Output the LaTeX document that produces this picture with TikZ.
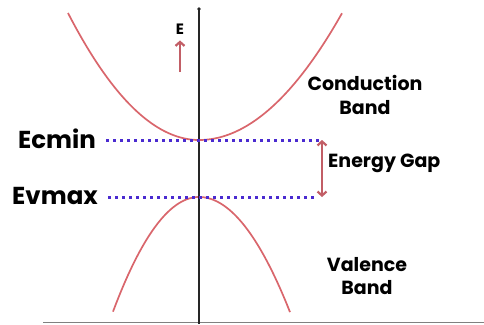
\documentclass[tikz,border=0pt]{standalone}
\usepackage{fontspec}
\setmainfont{Poppins}
\usetikzlibrary{arrows.meta,positioning}
\definecolor{bandred}{HTML}{D9666C}
\definecolor{gapred}{HTML}{C25E66}
\definecolor{levelblue}{HTML}{4A2BD0}

\begin{document}
\begin{tikzpicture}[x=1pt, y=-1pt,
  band/.style={bandred, line width=1.7pt},
  level/.style={levelblue, line width=3pt, dash pattern=on 3pt off 4pt},
  gaparrow/.style={gapred, line width=2.2pt, -{Straight Barb[length=4pt,width=9pt]}},
  lbl/.style={font=\bfseries\fontsize{19}{23.5}\selectfont, align=center, inner sep=0pt},
  biglbl/.style={font=\bfseries\fontsize{24.5}{26}\selectfont, inner sep=0pt}]
  \useasboundingbox (0,0) rectangle (484,324);

  % bands
  \draw[band, domain=-13.1:0, samples=60] plot ({199+10*\x}, {140-0.74*\x*\x});
  \draw[band, domain=0:14.3, samples=60] plot ({199+10*\x}, {140-0.62*\x*\x});
  \draw[band, domain=-8.6:0, samples=60] plot ({199+10*\x}, {197+1.55*\x*\x});
  \draw[band, domain=0:9.1, samples=60] plot ({199+10*\x}, {197+1.39*\x*\x});

  % axes
  \draw[gray, line width=1.5pt] (43,322.5) -- (484,322.5);
  \draw[black!85, line width=1.8pt] (199,324) -- (199,9);
  \fill[black!85] (199,9) circle (1.8pt);

  % energy arrow
  \node[font=\bfseries\fontsize{15}{16}\selectfont, inner sep=0pt] (E) at (180,29) {E};
  \coordinate (etail) at (180,72);
  \draw[gaparrow] (etail) -- ([yshift=-6pt]E.south);

  % levels
  \node[biglbl, anchor=east] (ecmin) at (96,139) {Ecmin};
  \node[biglbl, anchor=east] (evmax) at (98,196) {Evmax};
  \coordinate (gaptop) at (322,140);
  \coordinate (gapbot) at (322,197);
  \draw[level] ([xshift=10pt]ecmin.east |- gaptop) -- (gaptop);
  \draw[level] ([xshift=10pt]evmax.east |- gapbot) -- ([xshift=-6pt]gapbot);
  \draw[gaparrow, {Straight Barb[length=4pt,width=9pt]}-{Straight Barb[length=4pt,width=9pt]}] (gaptop) -- (gapbot);

  % labels
  \node[lbl, anchor=west] (gap) at (328,163) {Energy Gap};
  \node[lbl] (cband) at (365,95) {Conduction\\Band};
  \node[lbl] (vband) at (367,276) {Valence\\Band};
\end{tikzpicture}
\end{document}
